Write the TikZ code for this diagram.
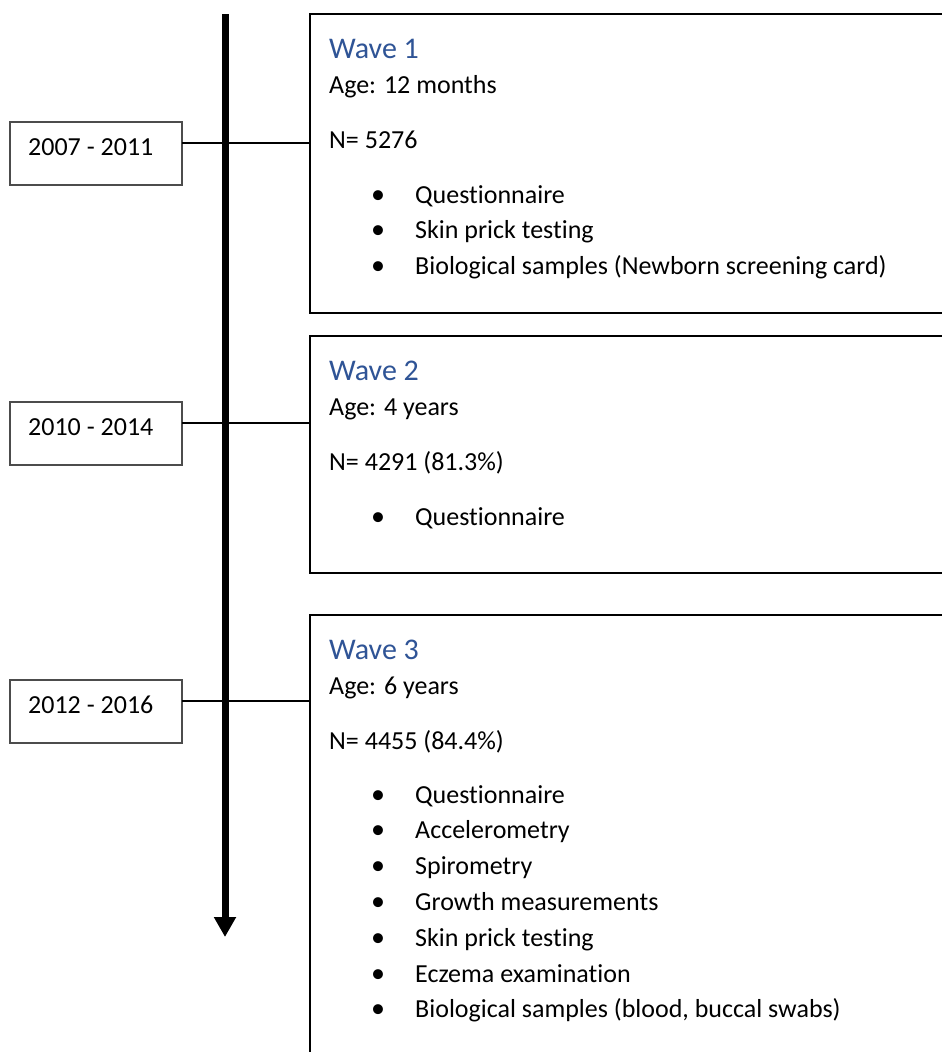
\documentclass[tikz,border=0pt]{standalone}
\usepackage{fontspec}
\setmainfont{Carlito}[Ligatures=NoCommon]
\usetikzlibrary{arrows.meta}
\definecolor{headblue}{HTML}{2F5496}
\tikzset{
  datebox/.style={draw=black!70, line width=1.2pt, fill=white, rectangle, inner sep=0pt, outer sep=0pt,
    minimum width=172pt, minimum height=63pt, anchor=north west},
  wavebox/.style={draw=black, line width=1.8pt, rectangle, inner sep=0pt, outer sep=0pt,
    minimum width=700pt, anchor=north west},
  datetext/.style={anchor=base west, inner sep=0pt, font=\fontsize{26}{31}\selectfont},
  head/.style={anchor=base west, inner sep=0pt, text=headblue, font=\fontsize{30}{36}\selectfont},
  body/.style={anchor=base west, inner sep=0pt, font=\fontsize{26}{31}\selectfont},
  bul/.style={anchor=base, inner sep=0pt, font=\fontsize{28}{31}\selectfont},
  link/.style={draw=black, line width=2pt},
  timeline/.style={line width=7pt, -{Triangle[width=21pt,length=20pt]}}
}
\begin{document}
\begin{tikzpicture}[x=1pt, y=-1pt]
\clip (0,0) rectangle (942,1052);
\fill[white] (0,0) rectangle (942,1052);

% time axis
\coordinate (axtop) at (225,14);
\coordinate (axend) at (225,937);
\draw[timeline] (axtop) -- (axend);

% wave boxes
\node[wavebox, minimum height=299pt] (w1) at (310,14) {};
\node[wavebox, minimum height=237pt] (w2) at (310,336) {};
\node[wavebox, minimum height=470pt] (w3) at (310,615) {};

% date boxes
\node[datebox] (d1) at (10,122) {};
\node[datebox] (d2) at (10,402) {};
\node[datebox] (d3) at (10,680) {};
\node[datetext] (t1) at ([xshift=18pt,yshift=-33pt]d1.north west) {2007 - 2011};
\node[datetext] (t2) at ([xshift=18pt,yshift=-33pt]d2.north west) {2010 - 2014};
\node[datetext] (t3) at ([xshift=18pt,yshift=-33pt]d3.north west) {2012 - 2016};

% links from the dates to the waves
\draw[link] ([yshift=-21pt]d1.north east) -- ([yshift=-21pt]d1.north east -| w1.west);
\draw[link] ([yshift=-21pt]d2.north east) -- ([yshift=-21pt]d2.north east -| w2.west);
\draw[link] ([yshift=-21pt]d3.north east) -- ([yshift=-21pt]d3.north east -| w3.west);

% wave 1
\node[head] (h1) at (329,58) {Wave 1};
\node[body] (a1) at (329,93) {Age: 12 months};
\node[body] (n1) at (329,148) {N= 5276};
\foreach \t [count=\i from 0] in {Questionnaire, Skin prick testing, Biological samples (Newborn screening card)} {
  \node[bul] (b1-\i) at (378,{203+35.8*\i}) {•};
  \node[body] (l1-\i) at (415,{203+35.8*\i}) {\t};
}

% wave 2
\node[head] (h2) at (329,380) {Wave 2};
\node[body] (a2) at (329,415) {Age: 4 years};
\node[body] (n2) at (329,470) {N= 4291 (81.3\%)};
\node[bul] (b2-0) at (378,525) {•};
\node[body] (l2-0) at (415,525) {Questionnaire};

% wave 3
\node[head] (h3) at (329,659) {Wave 3};
\node[body] (a3) at (329,694) {Age: 6 years};
\node[body] (n3) at (329,749) {N= 4455 (84.4\%)};
\foreach \t [count=\i from 0] in {Questionnaire, Accelerometry, Spirometry, Growth measurements, Skin prick testing, Eczema examination, {Biological samples (blood, buccal swabs)}} {
  \node[bul] (b3-\i) at (378,{803+35.8*\i}) {•};
  \node[body] (l3-\i) at (415,{803+35.8*\i}) {\t};
}
\end{tikzpicture}
\end{document}
